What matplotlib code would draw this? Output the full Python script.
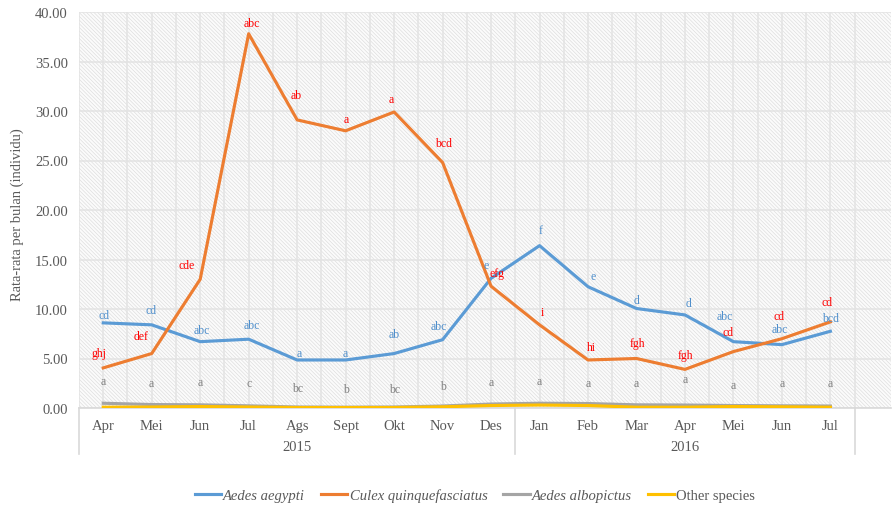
import numpy as np
import matplotlib.pyplot as plt
from matplotlib.patches import Rectangle
from matplotlib.lines import Line2D
import matplotlib.transforms as mtransforms

plt.rcParams['font.family'] = ['Liberation Serif', 'DejaVu Serif']
plt.rcParams['hatch.linewidth'] = 0.45

# Data
bulan = ['Apr', 'Mei', 'Jun', 'Jul', 'Ags', 'Sept', 'Okt', 'Nov', 'Des',
         'Jan', 'Feb', 'Mar', 'Apr', 'Mei', 'Jun', 'Jul']
tahun = ['2015', '2016']
aegypti = [8.6, 8.4, 6.7, 6.95, 4.85, 4.85, 5.5, 6.9, 13.1,
           16.4, 12.25, 10.05, 9.4, 6.7, 6.4, 7.75]
culex = [4.05, 5.5, 13.0, 37.8, 29.1, 28.0, 29.9, 24.8, 12.3,
         8.4, 4.85, 5.0, 3.9, 5.7, 7.0, 8.7]
albopictus = [0.48, 0.35, 0.32, 0.22, 0.1, 0.08, 0.1, 0.2, 0.4,
              0.48, 0.45, 0.32, 0.3, 0.25, 0.22, 0.2]
lainnya = [0.08, 0.1, 0.15, 0.1, 0.05, 0.05, 0.05, 0.12, 0.25,
           0.3, 0.25, 0.08, 0.08, 0.15, 0.12, 0.08]

# huruf notasi (uji lanjut)
huruf_aegypti = ['cd', 'cd', 'abc', 'abc', 'a', 'a', 'ab', 'abc', 'e',
                 'f', 'e', 'd', 'd', 'abc', 'abc', 'bcd']
huruf_culex = ['ghj', 'def', 'cde', 'abc', 'ab', 'a', 'a', 'bcd', 'efg',
               'i', 'hi', 'fgh', 'fgh', 'cd', 'cd', 'cd']
huruf_albopictus = ['a', 'a', 'a', 'c', 'bc', 'b', 'bc', 'b', 'a',
                    'a', 'a', 'a', 'a', 'a', 'a', 'a']

# posisi label huruf (koordinat data)
pos_aegypti_x = [0.02, 0.98, 2.04, 3.07, 4.04, 4.99, 6.0, 6.93, 7.89,
                 9.03, 10.1, 11.0, 12.07, 12.83, 13.96, 15.0]
pos_aegypti_y = [9.42, 9.93, 7.88, 8.38, 5.56, 5.56, 7.47, 8.28, 14.47,
                 18.01, 13.33, 10.94, 10.58, 9.29, 8.0, 9.12]
pos_culex_x = [-0.09, 0.79, 1.73, 3.07, 3.99, 5.02, 5.94, 7.02, 8.13,
               9.06, 10.08, 11.02, 12.01, 12.89, 13.93, 14.94]
pos_culex_y = [5.59, 7.30, 14.47, 38.86, 31.62, 29.16, 31.24, 26.8, 13.64,
               9.73, 6.19, 6.57, 5.35, 7.65, 9.25, 10.71]
pos_albo_y = [2.76, 2.49, 2.6, 2.49, 2.05, 1.92, 1.92, 2.25, 2.66,
              2.76, 2.53, 2.49, 2.9, 2.32, 2.49, 2.49]

c_biru = '#5B9BD5'
c_oranye = '#ED7D31'
c_abu = '#A5A5A5'
c_kuning = '#FFC000'
c_teks = '#595959'

fig = plt.figure(figsize=(8.93, 5.06), dpi=100)
ax = fig.add_axes([79 / 893, 1 - 409 / 506, 812 / 893, 396 / 506])

x = np.arange(len(bulan))

# latar belakang arsiran
ax.add_patch(Rectangle((0, 0), 1, 1, transform=ax.transAxes, facecolor='#fbfbfb',
                       edgecolor='#dcdcdc', hatch='\\' * 9, lw=0, zorder=0))

ax.plot(x, aegypti, color=c_biru, lw=2.25, zorder=3)
ax.plot(x, culex, color=c_oranye, lw=2.25, zorder=3)
ax.plot(x, albopictus, color=c_abu, lw=2.25, zorder=3)
ax.plot(x, lainnya, color=c_kuning, lw=2.25, zorder=3)

for i in range(len(bulan)):
    ax.text(pos_aegypti_x[i], pos_aegypti_y[i], huruf_aegypti[i], color='#4F8FCC',
            fontsize=8.5, ha='center', va='center', zorder=4)
    ax.text(pos_culex_x[i], pos_culex_y[i], huruf_culex[i], color='#FF0000',
            fontsize=8.5, ha='center', va='center', zorder=4)
    ax.text(x[i], pos_albo_y[i], huruf_albopictus[i], color='#808080',
            fontsize=8.5, ha='center', va='center', zorder=4)

ax.set_xlim(-0.5, 16.25)
ax.set_ylim(0, 40)
ax.set_yticks(np.arange(0, 40.1, 5))
ax.set_yticklabels([f'{v:.2f}' for v in np.arange(0, 40.1, 5)])
ax.set_xticks(x)
ax.set_xticklabels(bulan)
ax.set_xticks(np.arange(-0.5, 16.5, 1), minor=True)
ax.tick_params(axis='both', which='both', length=0, colors=c_teks, labelsize=10.5)
ax.tick_params(axis='x', pad=8)
ax.tick_params(axis='y', pad=8)

ax.grid(True, which='both', color='#e3e3e3', lw=1.1, zorder=1)
ax.set_axisbelow(True)

for s in ['top', 'right', 'left']:
    ax.spines[s].set_visible(False)
ax.spines['bottom'].set_color('#d9d9d9')
ax.spines['bottom'].set_linewidth(1.2)

# label tahun dan garis pemisah
trans = mtransforms.blended_transform_factory(ax.transData, ax.transAxes)
for xs in [-0.5, 8.5, 15.5]:
    ax.add_line(Line2D([xs, xs], [0, -0.116], transform=trans, color='#d9d9d9',
                       lw=1.2, clip_on=False))
ax.text(4, -0.098, tahun[0], transform=trans, ha='center', va='center',
        color=c_teks, fontsize=10.5)
ax.text(12, -0.098, tahun[1], transform=trans, ha='center', va='center',
        color=c_teks, fontsize=10.5)

fig.text(17 / 893, 1 - 215 / 506, 'Rata-rata per bulan (individu)', rotation=90,
         ha='center', va='center', color=c_teks, fontsize=10.5)

handles = [Line2D([], [], color=c, lw=2.25) for c in [c_biru, c_oranye, c_abu, c_kuning]]
leg = fig.legend(handles, ['Aedes aegypti', 'Culex quinquefasciatus', 'Aedes albopictus',
                           'Other species'],
                 loc='center', bbox_to_anchor=(475 / 893, 1 - 496 / 506), ncol=4,
                 frameon=False, fontsize=10.5, handlelength=1.8, handletextpad=0.15,
                 columnspacing=1.1)
for i, t in enumerate(leg.get_texts()):
    t.set_color(c_teks)
    if i < 3:
        t.set_fontstyle('italic')

fig.savefig('out.png', dpi=100)
